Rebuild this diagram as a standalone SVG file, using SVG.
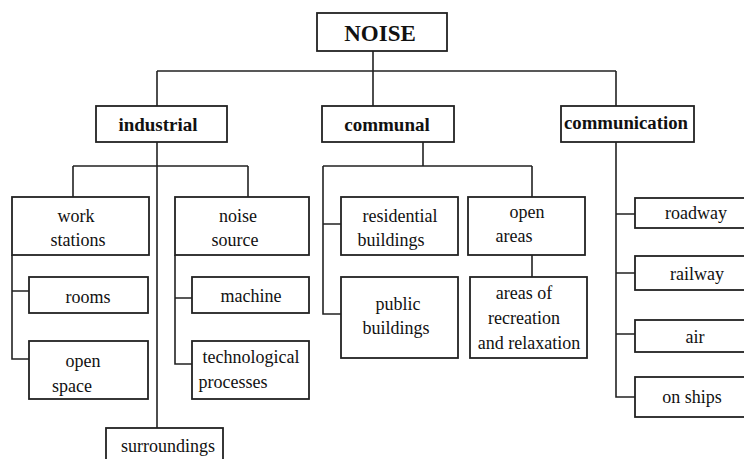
<svg xmlns="http://www.w3.org/2000/svg" width="744" height="459" viewBox="0 0 744 459" font-family="Liberation Serif, serif">
<style>
rect{fill:#fff;stroke:#222;stroke-width:1.8}
.c line,.c path{stroke:#222;stroke-width:1.6;fill:none}
text{font-size:18px;fill:#111;text-anchor:middle}
.b{font-weight:bold}
</style>
<rect x="0" y="0" width="744" height="459" style="fill:#fff;stroke:none"/>
<g class="c" id="connectors">
<path d="M373 51V106M157 71H616M157 71V106M616 71V106"/>
<path d="M157 142V428M73 166H248M73 166V197M248 166V197"/>
<path d="M12 255V359H29M12 291H29"/>
<path d="M175 255V364H192M175 298H192"/>
<path d="M423 142V166M323 166H532M532 166V197M323 166V314H341M323 224H341M532 255V277"/>
<path d="M616 142V397H635M616 214H635M616 273H635M616 334H635"/>
</g>
<g id="noise"><rect x="317" y="13" width="130" height="38"/><text class="b" x="380" y="41" style="font-size:23px">NOISE</text></g>
<g id="industrial"><rect x="96" y="106" width="131" height="36"/><text class="b" x="158" y="131" style="font-size:19px">industrial</text></g>
<g id="communal"><rect x="322" y="106" width="132" height="36"/><text class="b" x="387" y="131" style="font-size:19px">communal</text></g>
<g id="communication"><rect x="561" y="106" width="133" height="36"/><text class="b" x="626" y="129" style="font-size:18px" textLength="124" lengthAdjust="spacingAndGlyphs">communication</text></g>
<g id="work-stations"><rect x="12" y="197" width="137" height="58"/><text x="76" y="222">work</text><text x="78" y="246">stations</text></g>
<g id="noise-source"><rect x="175" y="197" width="134" height="58"/><text x="238" y="222">noise</text><text x="235" y="246">source</text></g>
<g id="rooms"><rect x="29" y="277" width="119" height="36"/><text x="88" y="303">rooms</text></g>
<g id="open-space"><rect x="29" y="341" width="119" height="58"/><text x="83" y="367">open</text><text x="72" y="392">space</text></g>
<g id="machine"><rect x="192" y="277" width="117" height="36"/><text x="251" y="302">machine</text></g>
<g id="technological"><rect x="192" y="341" width="117" height="58"/><text x="251" y="363">technological</text><text x="233" y="388">processes</text></g>
<g id="surroundings"><rect x="106" y="428" width="117" height="50"/><text x="168" y="452">surroundings</text></g>
<g id="residential"><rect x="341" y="197" width="117" height="58"/><text x="400" y="222">residential</text><text x="391" y="246">buildings</text></g>
<g id="public"><rect x="341" y="277" width="117" height="81"/><text x="398" y="310">public</text><text x="396" y="334">buildings</text></g>
<g id="open-areas"><rect x="468" y="197" width="117" height="58"/><text x="527" y="218">open</text><text x="514" y="242">areas</text></g>
<g id="recreation"><rect x="470" y="277" width="117" height="81"/><text x="524" y="299">areas of</text><text x="524" y="324">recreation</text><text x="529" y="349">and relaxation</text></g>
<g id="roadway"><rect x="635" y="198" width="125" height="30"/><text x="696" y="219">roadway</text></g>
<g id="railway"><rect x="635" y="256" width="125" height="34"/><text x="697" y="280">railway</text></g>
<g id="air"><rect x="635" y="320" width="125" height="32"/><text x="695" y="343">air</text></g>
<g id="on-ships"><rect x="635" y="377" width="125" height="40"/><text x="692" y="403">on ships</text></g>
</svg>
